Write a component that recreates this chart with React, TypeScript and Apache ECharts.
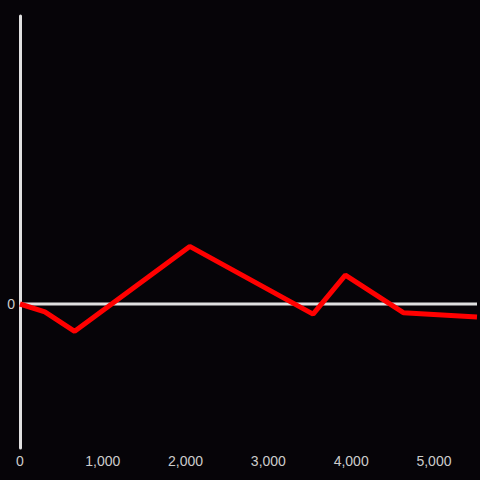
import React, { useEffect, useRef } from "react";
import * as echarts from "echarts";

const xValues = [0, 300, 660, 2050, 3540, 3930, 4630, 5520];
const yValues = [0, -5.5, -19, 40, -7, 20, -6, -9];
const xTicks = [0, 1000, 2000, 3000, 4000, 5000];
const xMax = 5520;

export default function App() {
  const ref = useRef<HTMLDivElement>(null);
  useEffect(() => {
    if (!ref.current) return;
    const chart = echarts.init(ref.current, null, { renderer: "svg" });
    const data = xValues.map((x, i) => [x, yValues[i]]);
    chart.setOption({
      animation: false,
      backgroundColor: "#060408",
      grid: { left: 20, right: 0, top: 16, bottom: 32 },
      xAxis: {
        type: "value",
        min: 0,
        max: xMax,
        interval: 1000,
        axisLine: { show: false },
        axisTick: { show: false },
        splitLine: { show: false },
        axisLabel: {
          color: "#cccccc",
          fontSize: 14,
          fontFamily: "Liberation Sans, Arial, sans-serif",
          margin: 6,
          formatter: (v: number) => (xTicks.includes(v) ? v.toLocaleString("en-US") : ""),
        },
      },
      yAxis: {
        type: "value",
        min: -100,
        max: 200,
        interval: 100,
        axisLine: { show: true, onZero: false, lineStyle: { color: "#e0e0e0", width: 3 } },
        axisTick: { show: false },
        splitLine: { show: false },
        axisLabel: {
          color: "#cccccc",
          fontSize: 14,
          fontFamily: "Liberation Sans, Arial, sans-serif",
          margin: 5,
          formatter: (v: number) => (v === 0 ? "0" : ""),
        },
      },
      series: [
        {
          type: "line",
          data: [[0, 0], [xMax, 0]],
          symbol: "none",
          silent: true,
          z: 1,
          lineStyle: { color: "#e0e0e0", width: 3 },
        },
        {
          type: "line",
          data,
          symbol: "none",
          z: 3,
          lineStyle: { color: "#ff0000", width: 5 },
        },
      ],
    });
    return () => chart.dispose();
  }, []);
  return <div ref={ref} style={{ width: 480, height: 480, position: "absolute", left: 0, top: 0 }} />;
}
